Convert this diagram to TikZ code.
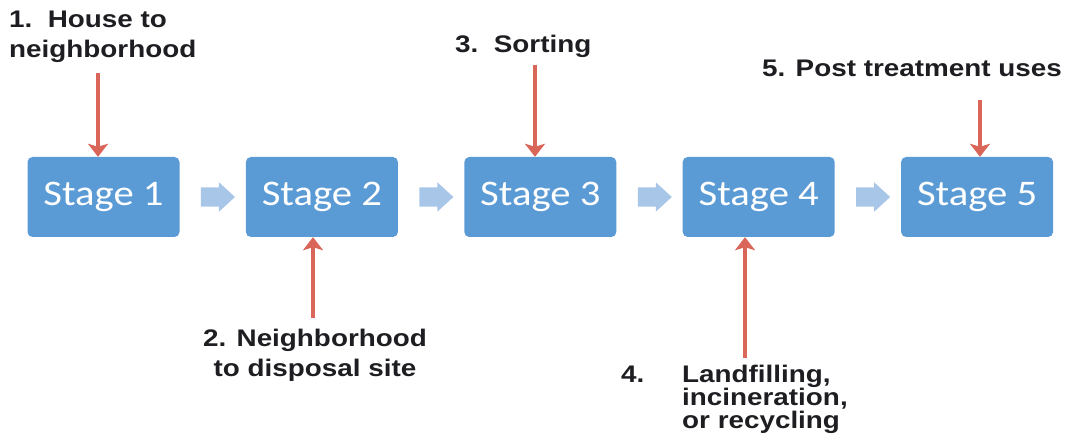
\documentclass[tikz,border=0pt]{standalone}
\usepackage{fontspec}
\usepackage{tikz}
\usetikzlibrary{arrows.meta,positioning,shapes.arrows,calc}

\newfontfamily\stagefont[FakeStretch=1.13]{Carlito}
\newfontfamily\notefont[FakeStretch=1.16]{Liberation Sans}

\definecolor{stageblue}{RGB}{91,155,213}
\definecolor{chevblue}{RGB}{168,198,232}
\definecolor{feedred}{RGB}{218,102,90}
\definecolor{notegray}{RGB}{30,30,34}

\begin{document}
\begin{tikzpicture}[x=1pt,y=-1pt,>={Stealth[length=13pt,width=20pt,inset=3pt]},
                    node distance=66pt,
                    stage/.style={rectangle,rounded corners=5pt,fill=stageblue,text=white,
                      minimum width=152pt,minimum height=80pt,
                      font=\stagefont\fontsize{36}{40}\selectfont},
                    chev/.style={single arrow,fill=chevblue,inner xsep=0pt,inner ysep=9.5pt,
                      minimum height=34pt,single arrow head extend=5pt,single arrow tip angle=85},
                    note/.style={inner sep=0pt,text=notegray,
                      font=\notefont\bfseries\fontsize{24}{30}\selectfont},
                    feed/.style={->,draw=feedred,line width=3.5pt}]

  \useasboundingbox (0,0) rectangle (1065,446);

  \node[stage] (s1) at (103.5,197) {Stage 1};
  \node[stage] (s2) [right=of s1] {Stage 2};
  \node[stage] (s3) [right=of s2] {Stage 3};
  \node[stage] (s4) [right=of s3] {Stage 4};
  \node[stage] (s5) [right=of s4] {Stage 5};

  \node[chev] (c12) at ($(s1.east)!0.5!(s2.west)$) {};
  \node[chev] (c23) at ($(s2.east)!0.5!(s3.west)$) {};
  \node[chev] (c34) at ($(s3.east)!0.5!(s4.west)$) {};
  \node[chev] (c45) at ($(s4.east)!0.5!(s5.west)$) {};

  % what happens at each stage (base = last line)
  \node[note,align=left,anchor=base west] (lab1) at (9,58) {1.\ \ House to\\neighborhood};
  \node[note,align=center,anchor=base] (lab2) at (315,376) {2. Neighborhood\\to disposal site};
  \node[note,anchor=base west] (lab3) at (455,53) {3.\ \ Sorting};
  \node[note,align=left,anchor=base west,
        font=\notefont\bfseries\fontsize{24}{23}\selectfont] (lab4) at (682,428)
        {Landfilling,\\incineration,\\or recycling};
  \node[note,anchor=base west] (num4) at (621,382) {4.};
  \node[note,anchor=base west] (lab5) at (762,77) {5. Post treatment uses};

  \coordinate (t1) at (98,73);
  \coordinate (t2) at (313,318);
  \coordinate (t3) at (535,65);
  \coordinate (t4) at (745,358);
  \coordinate (t5) at (980,100);

  \draw[feed] (t1) -- (t1 |- s1.north);
  \draw[feed] (t2) -- (t2 |- s2.south);
  \draw[feed] (t3) -- (t3 |- s3.north);
  \draw[feed] (t4) -- (t4 |- s4.south);
  \draw[feed] (t5) -- (t5 |- s5.north);
\end{tikzpicture}
\end{document}
